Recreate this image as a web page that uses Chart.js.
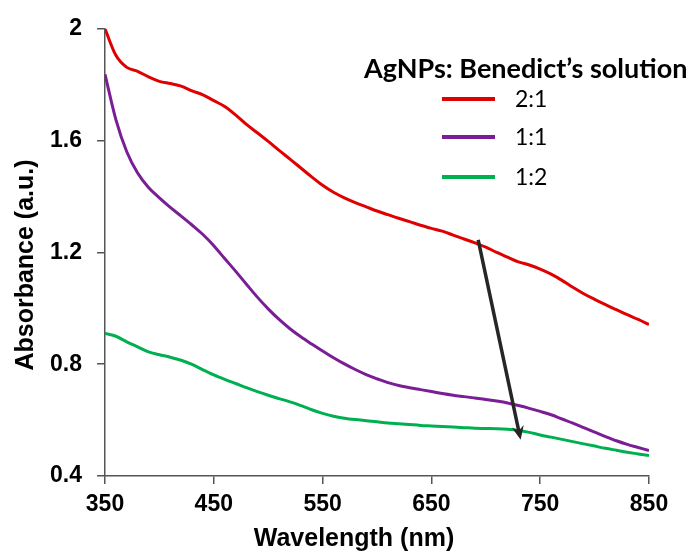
<!DOCTYPE html>
<html lang="en">
<head>
<meta charset="UTF-8">
<title>Absorbance</title>
<script src="https://cdn.jsdelivr.net/npm/chart.js@4.4.9/dist/chart.umd.min.js"></script>
<style>
  body { margin: 0; background: #fff; }
  .grafico { width: 695px; height: 558px; }
</style>
</head>
<body>
<div class="grafico"><canvas id="graficoAbs"></canvas></div>
<script>
// comprimentos de onda (nm)
const comprimentos = [350, 360, 370, 380, 390, 400, 410, 420, 430, 440,
  450, 460, 470, 480, 490, 500, 510, 520, 530, 540,
  550, 560, 570, 580, 590, 600, 610, 620, 630, 640,
  650, 660, 670, 680, 690, 700, 710, 720, 730, 740,
  750, 760, 770, 780, 790, 800, 810, 820, 830, 840, 850];

// absorbancia
const abs21 = [2.000, 1.905, 1.862, 1.848, 1.828, 1.812, 1.804, 1.795, 1.778, 1.764,
  1.743, 1.722, 1.692, 1.658, 1.628, 1.597, 1.565, 1.534, 1.502, 1.470,
  1.440, 1.415, 1.395, 1.378, 1.363, 1.348, 1.335, 1.322, 1.310, 1.297,
  1.286, 1.276, 1.262, 1.248, 1.234, 1.219, 1.200, 1.183, 1.166, 1.155,
  1.140, 1.122, 1.100, 1.075, 1.052, 1.032, 1.013, 0.995, 0.977, 0.960, 0.942];
const abs11 = [1.837, 1.675, 1.560, 1.484, 1.432, 1.395, 1.361, 1.330, 1.298, 1.264,
  1.224, 1.178, 1.133, 1.086, 1.040, 0.998, 0.960, 0.927, 0.898, 0.872,
  0.847, 0.823, 0.801, 0.781, 0.763, 0.748, 0.734, 0.724, 0.716, 0.709,
  0.702, 0.695, 0.689, 0.684, 0.679, 0.674, 0.668, 0.661, 0.652, 0.642,
  0.631, 0.619, 0.604, 0.589, 0.573, 0.557, 0.541, 0.526, 0.513, 0.502, 0.491];
const abs12 = [0.910, 0.900, 0.880, 0.862, 0.844, 0.834, 0.825, 0.814, 0.799, 0.780,
  0.762, 0.746, 0.731, 0.716, 0.702, 0.689, 0.677, 0.665, 0.652, 0.637,
  0.624, 0.614, 0.607, 0.602, 0.598, 0.594, 0.590, 0.587, 0.584, 0.581,
  0.579, 0.577, 0.575, 0.573, 0.571, 0.570, 0.569, 0.567, 0.563, 0.556,
  0.547, 0.539, 0.531, 0.523, 0.515, 0.507, 0.499, 0.492, 0.485, 0.479, 0.473];

const rotulos = ['2:1', '1:1', '1:2'];
const cores = ['#E00000', '#7A1E96', '#00B050'];
const ticksX = [350, 450, 550, 650, 750, 850];
const ticksY = [0.4, 0.8, 1.2, 1.6, 2];
const tituloLegenda = 'AgNPs: Benedict\u2019s solution';
const tituloX = 'Wavelength (nm)';
const tituloY = 'Absorbance (a.u.)';
// seta (em unidades dos dados)
const setaInicio = [693, 1.245];
const setaFim = [732, 0.53];

function pontos(valores) {
    return comprimentos.map(function (c, i) { return { x: c, y: valores[i] }; });
}

const series = [abs21, abs11, abs12];
const dados = {
    datasets: series.map(function (s, i) {
        return {
            label: rotulos[i],
            data: pontos(s),
            borderColor: cores[i],
            backgroundColor: cores[i],
            borderWidth: 3,
            pointRadius: 0,
            fill: false,
            cubicInterpolationMode: 'monotone'
        };
    })
};

// legenda, titulos dos eixos e seta
const extras = {
    id: 'extras',
    afterDraw(chart) {
        const ctx = chart.ctx;
        const sx = chart.scales.x, sy = chart.scales.y;
        ctx.save();
        ctx.fillStyle = '#000';
        ctx.textAlign = 'center';
        ctx.textBaseline = 'middle';
        ctx.font = 'bold 25px "Liberation Sans", Arial, sans-serif';
        ctx.fillText(tituloX, 354, 539);
        ctx.save();
        ctx.translate(26, 265);
        ctx.rotate(-Math.PI / 2);
        ctx.fillText(tituloY, 0, 0);
        ctx.restore();

        // legenda
        ctx.textAlign = 'left';
        ctx.textBaseline = 'alphabetic';
        ctx.font = 'bold 27px Lato, sans-serif';
        ctx.fillText(tituloLegenda, 364, 78);
        ctx.font = '23px Lato, sans-serif';
        ctx.textBaseline = 'middle';
        const ys = [99, 137, 177];
        chart.data.datasets.forEach(function (ds, i) {
            ctx.strokeStyle = ds.borderColor;
            ctx.lineWidth = 4;
            ctx.beginPath();
            ctx.moveTo(442, ys[i]);
            ctx.lineTo(495, ys[i]);
            ctx.stroke();
            ctx.fillText(ds.label, 515, ys[i] + 1);
        });

        // seta
        const x0 = sx.getPixelForValue(setaInicio[0]), y0 = sy.getPixelForValue(setaInicio[1]);
        const x1 = sx.getPixelForValue(setaFim[0]), y1 = sy.getPixelForValue(setaFim[1]);
        const ang = Math.atan2(y1 - y0, x1 - x0);
        const cab = 15;
        ctx.strokeStyle = '#262626';
        ctx.fillStyle = '#262626';
        ctx.lineWidth = 3.5;
        ctx.beginPath();
        ctx.moveTo(x0, y0);
        ctx.lineTo(x1 - Math.cos(ang) * cab * 0.6, y1 - Math.sin(ang) * cab * 0.6);
        ctx.stroke();
        ctx.beginPath();
        ctx.moveTo(x1, y1);
        ctx.lineTo(x1 - cab * Math.cos(ang - 0.42), y1 - cab * Math.sin(ang - 0.42));
        ctx.lineTo(x1 - cab * 0.6 * Math.cos(ang), y1 - cab * 0.6 * Math.sin(ang));
        ctx.lineTo(x1 - cab * Math.cos(ang + 0.42), y1 - cab * Math.sin(ang + 0.42));
        ctx.closePath();
        ctx.fill();
        ctx.restore();
    }
};

const fonteTicks = { family: '"Liberation Sans", Arial, sans-serif', size: 23, weight: 'bold' };

const config = {
    type: 'line',
    data: dados,
    options: {
        responsive: true,
        maintainAspectRatio: false,
        animation: false,
        layout: { padding: { left: 0, top: 26, right: 46, bottom: 0 } },
        plugins: {
            legend: { display: false },
            tooltip: { enabled: false }
        },
        scales: {
            x: {
                type: 'linear',
                min: 350,
                max: 850,
                afterBuildTicks: function (s) { s.ticks = ticksX.map(function (v) { return { value: v }; }); },
                afterFit: function (s) { s.height = 82; },
                grid: { drawOnChartArea: false, tickLength: 8, color: '#555', lineWidth: 1.5 },
                border: { color: '#555', width: 1.5 },
                ticks: { color: '#000', font: fonteTicks, padding: 7, maxRotation: 0,
                    callback: function (v) { return String(v); } }
            },
            y: {
                type: 'linear',
                min: 0.4,
                max: 2,
                afterBuildTicks: function (s) { s.ticks = ticksY.map(function (v) { return { value: v }; }); },
                afterFit: function (s) { s.width = 105; },
                grid: { drawOnChartArea: false, tickLength: 8, color: '#555', lineWidth: 1.5 },
                border: { color: '#555', width: 1.5 },
                ticks: { color: '#000', font: fonteTicks, padding: 15,
                    callback: function (v) { return String(v); } }
            }
        }
    },
    plugins: [extras]
};

new Chart(document.getElementById('graficoAbs'), config);
</script>
</body>
</html>
